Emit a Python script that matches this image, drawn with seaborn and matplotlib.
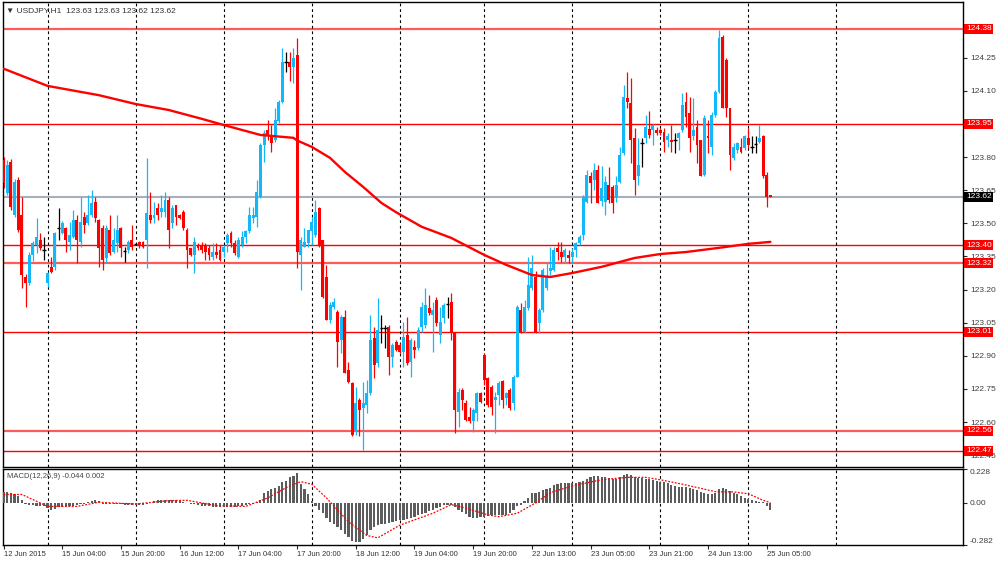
import numpy as np
import pandas as pd
import matplotlib
matplotlib.use("Agg")
import matplotlib.pyplot as plt
import seaborn as sns

# USDJPY H1 candles, bar 0 = 12 Jun 2015 11:00
opens = [123.787, 123.636, 123.779, 123.538, 123.696, 123.538, 123.259, 123.229, 123.357, 123.402,
         123.425, 123.380, 123.229, 123.304, 123.304, 123.478, 123.455, 123.478, 123.417, 123.440,
         123.515, 123.417, 123.530, 123.500, 123.538, 123.598, 123.515, 123.478, 123.342, 123.470,
         123.372, 123.410, 123.478, 123.375, 123.380, 123.425, 123.405, 123.417, 123.417, 123.425,
         123.538, 123.523, 123.568, 123.553, 123.553, 123.606, 123.500, 123.583, 123.538, 123.553,
         123.470, 123.387, 123.357, 123.402, 123.402, 123.398, 123.387, 123.349, 123.372, 123.380,
         123.372, 123.410, 123.455, 123.410, 123.349, 123.402, 123.440, 123.463, 123.523, 123.530,
         123.621, 123.855, 123.923, 123.896, 123.878, 123.961, 124.051, 124.232, 124.232, 124.209,
         124.262, 123.357, 123.395, 123.410, 123.463, 123.447, 123.568, 123.425, 123.259, 123.063,
         123.123, 123.100, 122.972, 123.078, 122.836, 122.776, 122.565, 122.700, 122.663, 122.678,
         122.731, 122.980, 122.866, 123.025, 123.025, 123.032, 122.897, 122.965, 122.950, 122.919,
         122.995, 122.874, 122.942, 122.934, 123.032, 123.040, 123.116, 123.085, 123.153, 122.995,
         123.070, 123.134, 123.146, 123.002, 122.648, 122.746, 122.685, 122.625, 122.603, 122.640,
         122.734, 122.904, 122.799, 122.761, 122.700, 122.723, 122.784, 122.708, 122.746, 122.685,
         122.806, 123.108, 123.010, 123.116, 123.206, 123.259, 123.048, 123.108, 123.206, 123.282,
         123.289, 123.387, 123.372, 123.349, 123.357, 123.349, 123.380, 123.410, 123.447, 123.598,
         123.712, 123.696, 123.742, 123.600, 123.598, 123.674, 123.666, 123.613, 123.689, 123.817,
         124.066, 124.043, 123.885, 123.712, 123.862, 123.885, 123.926, 123.923, 123.923, 123.923,
         123.915, 123.878, 123.878, 123.878, 123.885, 123.923, 124.051, 123.998, 123.893, 123.938,
         123.878, 123.719, 123.896, 123.847, 123.991, 124.096, 124.345, 124.240, 124.021, 123.794,
         123.832, 123.847, 123.840, 123.885, 123.847, 123.858, 123.870, 123.896, 123.719, 123.630]
highs = [123.800, 123.787, 123.790, 123.700, 123.710, 123.620, 123.270, 123.370, 123.420, 123.523,
         123.455, 123.440, 123.280, 123.349, 123.460, 123.568, 123.510, 123.485, 123.508, 123.561,
         123.538, 123.621, 123.553, 123.628, 123.651, 123.621, 123.520, 123.493, 123.493, 123.538,
         123.478, 123.538, 123.485, 123.395, 123.425, 123.493, 123.410, 123.420, 123.420, 123.795,
         123.644, 123.598, 123.591, 123.628, 123.644, 123.621, 123.583, 123.583, 123.540, 123.561,
         123.478, 123.390, 123.440, 123.410, 123.417, 123.410, 123.402, 123.410, 123.410, 123.402,
         123.402, 123.455, 123.463, 123.425, 123.440, 123.463, 123.470, 123.576, 123.576, 123.696,
         123.862, 123.923, 123.968, 123.945, 124.021, 124.059, 124.293, 124.277, 124.277, 124.293,
         124.338, 123.440, 123.478, 123.470, 123.530, 123.606, 123.576, 123.425, 123.312, 123.146,
         123.160, 123.108, 123.085, 123.108, 122.874, 122.780, 122.761, 122.708, 122.783, 122.791,
         123.085, 123.032, 123.161, 123.085, 123.040, 123.040, 122.957, 122.970, 122.957, 123.055,
         123.078, 122.980, 122.972, 123.032, 123.146, 123.206, 123.176, 123.146, 123.168, 123.123,
         123.138, 123.168, 123.183, 123.010, 122.753, 122.753, 122.700, 122.670, 122.663, 122.738,
         122.738, 122.912, 122.806, 122.769, 122.738, 122.784, 122.791, 122.738, 122.753, 122.814,
         123.131, 123.138, 123.153, 123.349, 123.357, 123.282, 123.116, 123.297, 123.327, 123.395,
         123.395, 123.417, 123.417, 123.387, 123.380, 123.387, 123.417, 123.447, 123.630, 123.742,
         123.734, 123.772, 123.764, 123.760, 123.712, 123.757, 123.674, 123.712, 123.847, 124.126,
         124.187, 124.157, 123.930, 123.885, 123.885, 123.991, 124.009, 123.950, 123.938, 123.930,
         123.930, 123.908, 123.945, 123.908, 123.915, 124.089, 124.096, 124.074, 124.066, 123.968,
         123.878, 123.991, 123.968, 124.006, 124.104, 124.375, 124.353, 124.247, 124.021, 123.862,
         123.870, 123.885, 123.900, 123.930, 123.893, 123.893, 123.945, 123.900, 123.734, 123.630]
lows = [123.660, 123.630, 123.560, 123.530, 123.460, 123.206, 123.123, 123.220, 123.330, 123.364,
        123.380, 123.334, 123.210, 123.274, 123.290, 123.425, 123.450, 123.372, 123.380, 123.432,
        123.319, 123.395, 123.455, 123.493, 123.530, 123.508, 123.304, 123.289, 123.319, 123.357,
        123.364, 123.372, 123.349, 123.327, 123.364, 123.380, 123.400, 123.390, 123.390, 123.297,
        123.500, 123.500, 123.515, 123.530, 123.530, 123.387, 123.478, 123.493, 123.520, 123.470,
        123.297, 123.350, 123.274, 123.380, 123.364, 123.334, 123.334, 123.334, 123.342, 123.330,
        123.349, 123.372, 123.395, 123.357, 123.342, 123.395, 123.410, 123.455, 123.500, 123.485,
        123.613, 123.779, 123.878, 123.825, 123.870, 123.953, 124.044, 124.187, 124.142, 124.134,
        123.297, 123.198, 123.395, 123.395, 123.402, 123.440, 123.395, 123.161, 123.063, 123.048,
        123.110, 122.851, 122.912, 122.821, 122.776, 122.535, 122.542, 122.535, 122.474, 122.640,
        122.723, 122.798, 122.851, 122.957, 122.934, 122.813, 122.851, 122.920, 122.912, 122.851,
        122.859, 122.806, 122.889, 122.927, 123.010, 123.025, 123.085, 122.919, 123.033, 122.957,
        123.048, 123.070, 122.972, 122.550, 122.580, 122.655, 122.603, 122.595, 122.557, 122.603,
        122.685, 122.769, 122.670, 122.633, 122.550, 122.678, 122.663, 122.678, 122.655, 122.655,
        122.806, 123.002, 123.002, 123.108, 123.199, 123.002, 123.002, 123.100, 123.199, 123.266,
        123.282, 123.334, 123.327, 123.319, 123.319, 123.319, 123.349, 123.402, 123.425, 123.591,
        123.591, 123.651, 123.591, 123.580, 123.538, 123.591, 123.545, 123.598, 123.681, 123.810,
        124.021, 123.772, 123.628, 123.674, 123.757, 123.862, 123.885, 123.855, 123.900, 123.900,
        123.825, 123.847, 123.825, 123.817, 123.832, 123.915, 123.938, 123.825, 123.878, 123.772,
        123.712, 123.712, 123.817, 123.810, 123.983, 124.089, 124.021, 123.983, 123.742, 123.787,
        123.817, 123.817, 123.832, 123.840, 123.817, 123.817, 123.862, 123.704, 123.576, 123.620]
closes = [123.681, 123.764, 123.576, 123.689, 123.470, 123.266, 123.229, 123.357, 123.410, 123.440,
          123.387, 123.380, 123.274, 123.281, 123.455, 123.478, 123.500, 123.425, 123.447, 123.515,
          123.425, 123.508, 123.493, 123.538, 123.591, 123.523, 123.387, 123.334, 123.478, 123.364,
          123.425, 123.470, 123.387, 123.375, 123.417, 123.395, 123.405, 123.398, 123.395, 123.546,
          123.515, 123.538, 123.538, 123.568, 123.606, 123.470, 123.568, 123.530, 123.523, 123.478,
          123.380, 123.357, 123.417, 123.387, 123.380, 123.372, 123.357, 123.372, 123.357, 123.334,
          123.395, 123.447, 123.410, 123.364, 123.425, 123.440, 123.463, 123.538, 123.538, 123.644,
          123.855, 123.908, 123.900, 123.862, 123.968, 124.051, 124.232, 124.232, 124.206, 124.247,
          123.372, 123.425, 123.417, 123.470, 123.508, 123.553, 123.402, 123.168, 123.063, 123.130,
          123.146, 122.965, 123.078, 122.821, 122.783, 122.542, 122.685, 122.655, 122.685, 122.731,
          122.972, 122.859, 123.017, 123.025, 123.025, 122.896, 122.950, 122.927, 122.919, 122.987,
          122.867, 122.972, 122.927, 123.017, 123.123, 123.131, 123.093, 123.108, 123.048, 123.055,
          123.131, 123.134, 123.010, 122.655, 122.738, 122.700, 122.610, 122.603, 122.655, 122.731,
          122.693, 122.791, 122.678, 122.670, 122.716, 122.776, 122.700, 122.731, 122.663, 122.806,
          123.123, 123.010, 123.123, 123.221, 123.297, 123.010, 123.108, 123.289, 123.259, 123.297,
          123.380, 123.372, 123.349, 123.380, 123.342, 123.372, 123.410, 123.440, 123.621, 123.719,
          123.682, 123.742, 123.591, 123.660, 123.689, 123.606, 123.591, 123.674, 123.810, 124.074,
          124.051, 123.878, 123.696, 123.764, 123.862, 123.938, 123.900, 123.945, 123.908, 123.908,
          123.870, 123.893, 123.870, 123.878, 123.908, 124.036, 123.983, 123.885, 123.923, 123.855,
          123.712, 123.976, 123.885, 123.991, 124.096, 124.338, 124.021, 124.021, 123.810, 123.847,
          123.862, 123.825, 123.893, 123.855, 123.847, 123.858, 123.885, 123.712, 123.621, 123.620]

# moving average read at a few bars
ma_idx = [0, 12, 26, 36, 45, 54, 60, 70, 79, 80, 84, 89, 93, 98, 103, 107, 114, 122, 131,
          137, 144, 149, 155, 163, 172, 179, 186, 195, 203, 209]
ma_val = [124.200, 124.122, 124.080, 124.040, 124.013, 123.973, 123.945, 123.900, 123.887, 123.875,
          123.846, 123.796, 123.733, 123.665, 123.592, 123.550, 123.484, 123.434, 123.357,
          123.312, 123.266, 123.257, 123.275, 123.303, 123.343, 123.361, 123.370, 123.389, 123.407, 123.416]

# MACD(12,26,9) main histogram, one value per bar
macd_hist = [0.076, 0.076, 0.069, 0.057, 0.046, 0.023, -0.005, -0.012, -0.015, -0.018,
             -0.018, -0.020, -0.035, -0.046, -0.040, -0.030, -0.025, -0.023, -0.020, -0.018,
             -0.012, -0.010, -0.005, 0.005, 0.010, 0.018, 0.012, -0.005, -0.005, -0.008,
             -0.008, -0.010, -0.010, -0.012, -0.012, -0.015, -0.015, -0.015, -0.012, -0.008,
             0.002, 0.010, 0.018, 0.020, 0.022, 0.022, 0.020, 0.018, 0.015, 0.008,
             0.002, -0.005, -0.010, -0.015, -0.018, -0.020, -0.022, -0.025, -0.028, -0.030,
             -0.030, -0.028, -0.028, -0.025, -0.022, -0.018, -0.015, -0.010, -0.005, 0.005,
             0.023, 0.069, 0.080, 0.097, 0.103, 0.115, 0.138, 0.149, 0.172, 0.184,
             0.202, 0.126, 0.092, 0.057, 0.011, -0.023, -0.046, -0.069, -0.103, -0.126,
             -0.138, -0.161, -0.184, -0.207, -0.230, -0.253, -0.264, -0.260, -0.241, -0.218,
             -0.184, -0.161, -0.149, -0.143, -0.138, -0.135, -0.126, -0.120, -0.115, -0.115,
             -0.110, -0.103, -0.097, -0.080, -0.075, -0.069, -0.055, -0.046, -0.035, -0.025,
             -0.015, -0.012, -0.011, -0.030, -0.046, -0.060, -0.075, -0.092, -0.103, -0.103,
             -0.097, -0.092, -0.085, -0.080, -0.080, -0.080, -0.080, -0.080, -0.069, -0.046,
             -0.023, -0.011, 0.011, 0.034, 0.064, 0.069, 0.076, 0.085, 0.092, 0.103,
             0.120, 0.126, 0.131, 0.133, 0.133, 0.133, 0.133, 0.138, 0.145, 0.161,
             0.172, 0.184, 0.179, 0.172, 0.172, 0.168, 0.161, 0.161, 0.172, 0.189,
             0.195, 0.189, 0.172, 0.168, 0.166, 0.161, 0.161, 0.156, 0.149, 0.143,
             0.138, 0.131, 0.122, 0.115, 0.108, 0.108, 0.108, 0.103, 0.097, 0.085,
             0.076, 0.064, 0.062, 0.062, 0.069, 0.092, 0.103, 0.097, 0.080, 0.069,
             0.057, 0.046, 0.034, 0.028, 0.018, 0.011, 0.009, 0.005, -0.023, -0.044]
# signal line read at a few bars
sig_idx = [0, 5, 12, 20, 26, 36, 45, 50, 58, 66, 72, 77, 81, 84, 88, 94, 99, 102, 108, 117,
           122, 126, 132, 135, 140, 145, 149, 155, 163, 170, 175, 179, 185, 194, 199, 203, 207, 209]
sig_val = [0.057, 0.057, -0.023, -0.023, 0.005, -0.007, 0.016, 0.018, -0.018, -0.023, 0.034, 0.103,
           0.143, 0.126, 0.034, -0.126, -0.218, -0.234, -0.149, -0.069, -0.011, -0.034, -0.080,
           -0.092, -0.069, 0.000, 0.069, 0.115, 0.156, 0.172, 0.172, 0.156, 0.126, 0.076, 0.074,
           0.062, 0.018, 0.002]

levels = [124.38, 123.95, 123.40, 123.32, 123.01, 122.56, 122.47]
soft_levels = [124.38, 123.32, 122.56]
bid = 123.62
price_ticks = [124.25, 124.10, 123.80, 123.65, 123.50, 123.35, 123.20, 123.05, 122.90, 122.75, 122.60, 122.45]
time_labels = ["12 Jun 2015", "15 Jun 04:00", "15 Jun 20:00", "16 Jun 12:00", "17 Jun 04:00",
               "17 Jun 20:00", "18 Jun 12:00", "19 Jun 04:00", "19 Jun 20:00", "22 Jun 13:00",
               "23 Jun 05:00", "23 Jun 21:00", "24 Jun 13:00", "25 Jun 05:00"]
time_pos = list(range(0, 209, 16))
day_seps = [12, 36, 60, 84, 108, 131, 155, 179, 203, 227]

sns.set_style("white")
plt.rcParams['font.family'] = ['Liberation Sans', 'DejaVu Sans']

df = pd.DataFrame({"o": opens, "h": highs, "l": lows, "c": closes})
df["i"] = np.arange(len(df))
BLUE = "#12b8f8"
RED = "#ff0000"
df["col"] = np.where(df.c > df.o, BLUE, np.where(df.c < df.o, RED, "#000000"))

fig = plt.figure(figsize=(10, 5.61), dpi=100)
ax = fig.add_axes([0.003, 0.1676, 0.960, 0.8289])
ax2 = fig.add_axes([0.003, 0.0285, 0.960, 0.1355])

# level lines
for lv in levels:
    if lv in soft_levels:
        ax.axhline(lv, color="#ff5a5a", lw=1.6, zorder=1)
    else:
        ax.axhline(lv, color=RED, lw=1.0, zorder=1)
ax.axhline(bid, color="#a7b0ba", lw=1.5, zorder=1)

for s in day_seps:
    ax.axvline(s, color="black", lw=0.8, ls=(0, (2.5, 2.5)), zorder=1)
    ax2.axvline(s, color="black", lw=0.8, ls=(0, (2.5, 2.5)), zorder=1)

# candles
ax.vlines(df.i, df.l, df.h, colors=df.col, lw=0.9, zorder=3)
body = df[df.c != df.o]
ax.bar(body.i, (body.c - body.o).abs(), bottom=body[["o", "c"]].min(axis=1),
       width=0.8, color=body.col, linewidth=0, zorder=4)
doji = df[df.c == df.o]
ax.hlines(doji.c, doji.i - 0.45, doji.i + 0.45, colors="black", lw=1, zorder=4)

sns.lineplot(x=ma_idx, y=ma_val, ax=ax, color=RED, lw=1.7, zorder=5)

ax.set_xlim(-0.15, 261.5)
ax.set_ylim(122.397, 124.502)
ax.set_xticks([])
ax.yaxis.tick_right()
ax.set_yticks(price_ticks)
ax.set_yticklabels([f"{t:.2f}" for t in price_ticks])
ax.tick_params(axis="y", right=True, direction="out", length=3, width=0.8, pad=2,
               labelsize=6, labelcolor="#404040")
ax.set_xlabel("")
ax.set_ylabel("")

for lv in levels:
    ax.text(1.003, lv, f"{lv:.2f}", transform=ax.get_yaxis_transform(), fontsize=6,
            color="white", va="center", ha="left", clip_on=False, zorder=6,
            bbox=dict(boxstyle="square,pad=0.18", fc=RED, ec="none"))
ax.text(1.003, bid, f"{bid:.2f}", transform=ax.get_yaxis_transform(), fontsize=6,
        color="white", va="center", ha="left", clip_on=False, zorder=6,
        bbox=dict(boxstyle="square,pad=0.18", fc="black", ec="none"))

ax.text(0.003, 0.988, "\u25bc USDJPY,H1  123.63 123.63 123.62 123.62", transform=ax.transAxes,
        fontsize=6, color="#333333", va="top", ha="left")

# MACD panel
ax2.bar(np.arange(len(macd_hist)), macd_hist, width=0.6, color="#5c5c5c", linewidth=0, zorder=3)
sns.lineplot(x=sig_idx, y=sig_val, ax=ax2, color=RED, lw=0.9, linestyle=(0, (1.5, 1.2)), zorder=4)
ax2.set_xlim(-0.15, 261.5)
ax2.set_ylim(-0.282, 0.228)
ax2.yaxis.tick_right()
ax2.set_yticks([0.228, 0.0, -0.282])
ax2.set_yticklabels(["0.228", "0.00", "-0.282"])
ax2.tick_params(axis="y", right=True, direction="out", length=3, width=0.8, pad=2,
                labelsize=6, labelcolor="#404040")
ylabs = ax2.get_yticklabels()
ylabs[0].set_va("top")
ylabs[2].set_va("bottom")
ax2.set_xticks(time_pos)
ax2.set_xticklabels(time_labels)
ax2.tick_params(axis="x", bottom=True, direction="out", length=3, width=0.8, pad=1.5,
                labelsize=5.5, labelcolor="#333333")
for lab in ax2.get_xticklabels():
    lab.set_ha("left")
ax2.set_xlabel("")
ax2.set_ylabel("")
ax2.text(0.004, 0.9, "MACD(12,26,9) -0.044 0.002", transform=ax2.transAxes,
         fontsize=5.5, color="#444444", va="center", ha="left")

for a in (ax, ax2):
    for sp in a.spines.values():
        sp.set_color("black")
        sp.set_linewidth(1)

fig.savefig("out.png", dpi=100, facecolor="white")
